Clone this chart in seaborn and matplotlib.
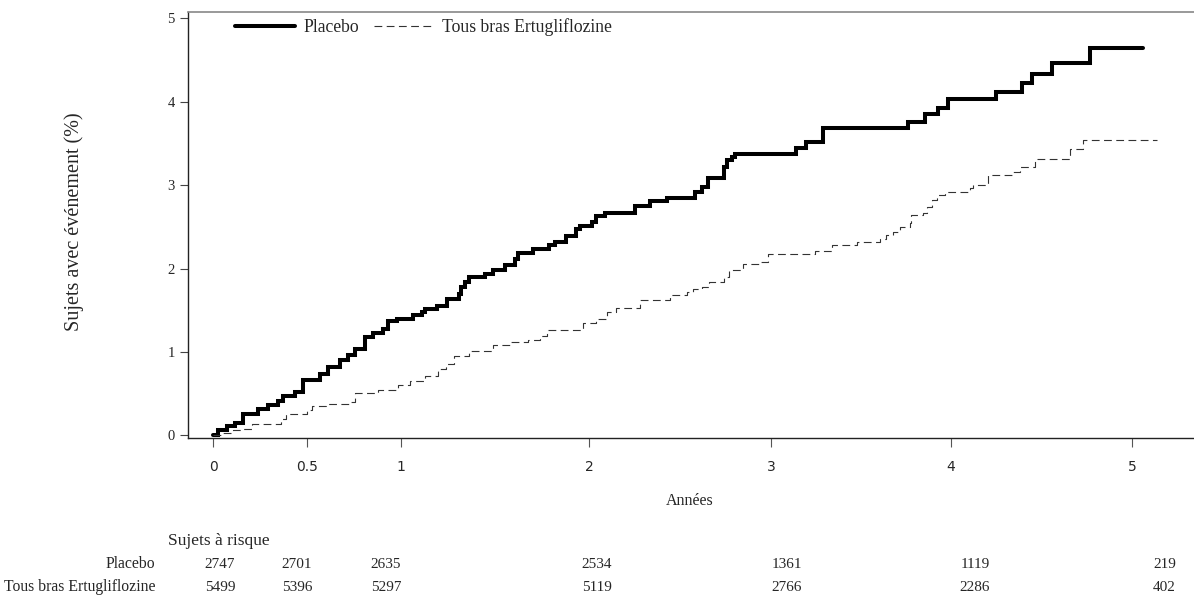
import numpy as np
import pandas as pd
import matplotlib
matplotlib.use("Agg")
import matplotlib.pyplot as plt
import seaborn as sns

# cumulative incidence (%), steps-post
placebo_years = [0, 0.028, 0.073, 0.117, 0.161, 0.24, 0.294, 0.347, 0.374, 0.436,
                 0.48, 0.57, 0.61, 0.676, 0.72, 0.754, 0.81, 0.85, 0.905, 0.93,
                 0.98, 1.065, 1.11, 1.128, 1.19, 1.245, 1.31, 1.32, 1.34, 1.363,
                 1.447, 1.49, 1.553, 1.606, 1.62, 1.70, 1.79, 1.82, 1.878, 1.93,
                 1.952, 2.015, 2.04, 2.088, 2.253, 2.335, 2.427, 2.58, 2.62, 2.656,
                 2.744, 2.757, 2.784, 2.80, 3.139, 3.194, 3.287, 3.763, 3.856, 3.93,
                 3.985, 4.247, 4.39, 4.45, 4.556, 4.768, 5.06]
placebo_pct = [0, 0.06, 0.11, 0.15, 0.26, 0.32, 0.36, 0.41, 0.47, 0.52,
               0.66, 0.73, 0.82, 0.90, 0.96, 1.03, 1.18, 1.23, 1.28, 1.37,
               1.40, 1.44, 1.48, 1.51, 1.55, 1.63, 1.70, 1.78, 1.84, 1.90,
               1.94, 1.98, 2.04, 2.12, 2.19, 2.24, 2.28, 2.32, 2.39, 2.47,
               2.51, 2.56, 2.63, 2.67, 2.75, 2.81, 2.85, 2.92, 2.98, 3.08,
               3.22, 3.30, 3.34, 3.37, 3.44, 3.52, 3.68, 3.76, 3.85, 3.93,
               4.03, 4.12, 4.22, 4.33, 4.46, 4.65, 4.65]

ertu_years = [0, 0.055, 0.108, 0.16, 0.206, 0.36, 0.39, 0.5, 0.525, 0.60,
              0.73, 0.755, 0.88, 0.986, 1.05, 1.128, 1.198, 1.24, 1.28, 1.36,
              1.49, 1.58, 1.677, 1.74, 1.775, 1.97, 2.04, 2.097, 2.15, 2.28,
              2.445, 2.537, 2.573, 2.62, 2.66, 2.74, 2.77, 2.848, 2.94, 2.985,
              3.244, 3.337, 3.476, 3.606, 3.64, 3.68, 3.717, 3.77, 3.78, 3.846,
              3.865, 3.894, 3.92, 3.967, 4.105, 4.123, 4.206, 4.344, 4.38, 4.464,
              4.657, 4.73, 5.14]
ertu_pct = [0, 0.03, 0.06, 0.08, 0.13, 0.20, 0.26, 0.30, 0.355, 0.37,
            0.40, 0.51, 0.54, 0.60, 0.65, 0.71, 0.80, 0.86, 0.95, 1.01,
            1.08, 1.12, 1.14, 1.19, 1.26, 1.35, 1.39, 1.48, 1.53, 1.62,
            1.68, 1.72, 1.75, 1.78, 1.84, 1.90, 1.98, 2.06, 2.08, 2.18,
            2.21, 2.28, 2.32, 2.36, 2.40, 2.44, 2.50, 2.54, 2.64, 2.66,
            2.74, 2.82, 2.88, 2.92, 2.96, 3.00, 3.12, 3.16, 3.22, 3.31,
            3.43, 3.54, 3.54]

x_ticks = [0, 0.5, 1, 2, 3, 4, 5]
x_tick_labels = ["0", "0.5", "1", "2", "3", "4", "5"]
y_ticks = [0, 1, 2, 3, 4, 5]

risk_labels = ["Placebo", "Tous bras Ertugliflozine"]
risk_placebo = [2747, 2701, 2635, 2534, 1361, 1119, 219]
risk_ertu = [5499, 5396, 5297, 5119, 2766, 2286, 402]
risk_years = [0.037, 0.447, 0.92, 2.044, 3.089, 4.133, 5.18]

# the reference time axis is not quite linear; map it the same way
scale_years = [-1, 0, 0.5, 1, 2, 3, 4, 5, 6]
scale_px = [25, 213, 307, 401, 589, 771, 951, 1132, 1313]


def fwd(v):
    return np.interp(v, scale_years, scale_px)


def inv(v):
    return np.interp(v, scale_px, scale_years)


sns.set_theme(style="white")
plt.rcParams["font.family"] = ["Liberation Serif", "DejaVu Sans"]

fig = plt.figure(figsize=(11.94, 5.99), dpi=100)
ax = fig.add_axes([188 / 1194, 1 - 438 / 599, 1006 / 1194, 426 / 599])

df_pl = pd.DataFrame({"years": placebo_years, "pct": placebo_pct})
df_er = pd.DataFrame({"years": ertu_years, "pct": ertu_pct})

sns.lineplot(data=df_pl, x="years", y="pct", ax=ax, estimator=None, sort=False,
             drawstyle="steps-post", color="black", linewidth=2.9,
             solid_joinstyle="miter", label="Placebo")
sns.lineplot(data=df_er, x="years", y="pct", ax=ax, estimator=None, sort=False,
             drawstyle="steps-post", color="#333333", linewidth=0.8,
             linestyle=(0, (7, 4)), label="Tous bras Ertugliflozine")

ax.set_xscale("function", functions=(fwd, inv))
ax.set_xlim(-0.133, 5.343)
ax.set_ylim(-0.032, 5.076)

ax.set_xticks(x_ticks)
ax.set_xticklabels(x_tick_labels)
ax.set_yticks(y_ticks)
ax.set_yticklabels([str(v) for v in y_ticks])
ax.tick_params(axis="x", direction="out", length=6.5, width=0.8, color="#555555",
               pad=9, labelsize=10, bottom=True)
ax.tick_params(axis="y", direction="out", length=6, width=0.8, color="#444444",
               pad=3.5, labelsize=10.5, left=True)
for lab in ax.get_xticklabels():
    lab.set_fontfamily("DejaVu Sans")

for side in ["left", "bottom"]:
    ax.spines[side].set_color("#222222")
    ax.spines[side].set_linewidth(1.0)
ax.spines["top"].set_color("#888888")
ax.spines["top"].set_linewidth(1.2)
ax.spines["right"].set_visible(False)

ax.set_xlabel("Années", fontsize=11.5)
ax.xaxis.set_label_coords(0.499, -0.129)
ax.xaxis.label.set_verticalalignment("top")
ax.set_ylabel("Sujets avec événement (%)", fontsize=14.5)
ax.yaxis.set_label_coords(-0.1128, 0.508)
ax.yaxis.label.set_verticalalignment("center")

ax.legend(loc="center left", bbox_to_anchor=(0.0467, 0.965), ncol=2,
          frameon=False, fontsize=12.7, handlelength=3.4, handletextpad=0.5,
          columnspacing=0.8, borderpad=0, borderaxespad=0)

# risk table under the axes
ax.text(-0.0199, -0.242, "Sujets à risque", transform=ax.transAxes,
        ha="left", va="center", fontsize=12.5)
row_y = [-0.296, -0.350]
for label, counts, yy in zip(risk_labels, [risk_placebo, risk_ertu], row_y):
    ax.text(-0.0328, yy, label, transform=ax.transAxes, ha="right",
            va="center", fontsize=11.3)
    for xv, n in zip(risk_years, counts):
        ax.text(xv, yy, str(n), transform=ax.get_xaxis_transform(),
                ha="center", va="center", fontsize=11)

fig.savefig("out.png", dpi=100)
